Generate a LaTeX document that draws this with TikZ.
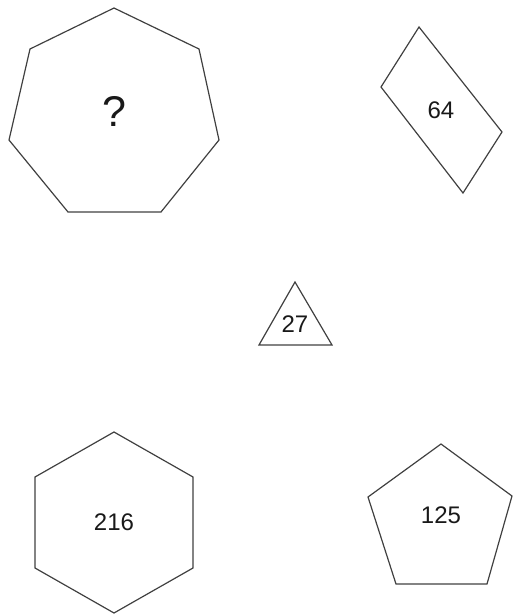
\documentclass[tikz,border=0pt]{standalone}
\usepackage{fontspec}
\setmainfont{Liberation Sans}
\begin{document}
\begin{tikzpicture}[x=1pt,y=-1pt,
  shape line/.style={draw=black!75, line width=1.2pt, line join=miter},
  numlabel/.style={font=\fontsize{24}{24}\selectfont, text=black!90, inner sep=0pt},
  qlabel/.style={font=\fontsize{43}{43}\selectfont, text=black!90, inner sep=0pt}]
\useasboundingbox (0,0) rectangle (513,614);
% heptagon
\draw[shape line] (114,8) -- (199,49) -- (219,140) -- (161,212) -- (68,212) -- (9,140) -- (30,49) -- cycle;
\node[qlabel] (q) at (114,111) {?};
% parallelogram
\draw[shape line] (419,27) -- (502,132) -- (463,193) -- (381,87) -- cycle;
\node[numlabel] (n64) at (441,110) {64};
% triangle
\draw[shape line] (295,282) -- (332,345) -- (259,345) -- cycle;
\node[numlabel] (n27) at (295,324) {27};
% hexagon
\draw[shape line] (114,432) -- (193,477) -- (193,568) -- (114,613) -- (35,568) -- (35,477) -- cycle;
\node[numlabel] (n216) at (114,522) {216};
% pentagon
\draw[shape line] (441,444) -- (512,496) -- (487,584) -- (396,584) -- (368,497) -- cycle;
\node[numlabel] (n125) at (441,515) {125};
\end{tikzpicture}
\end{document}
